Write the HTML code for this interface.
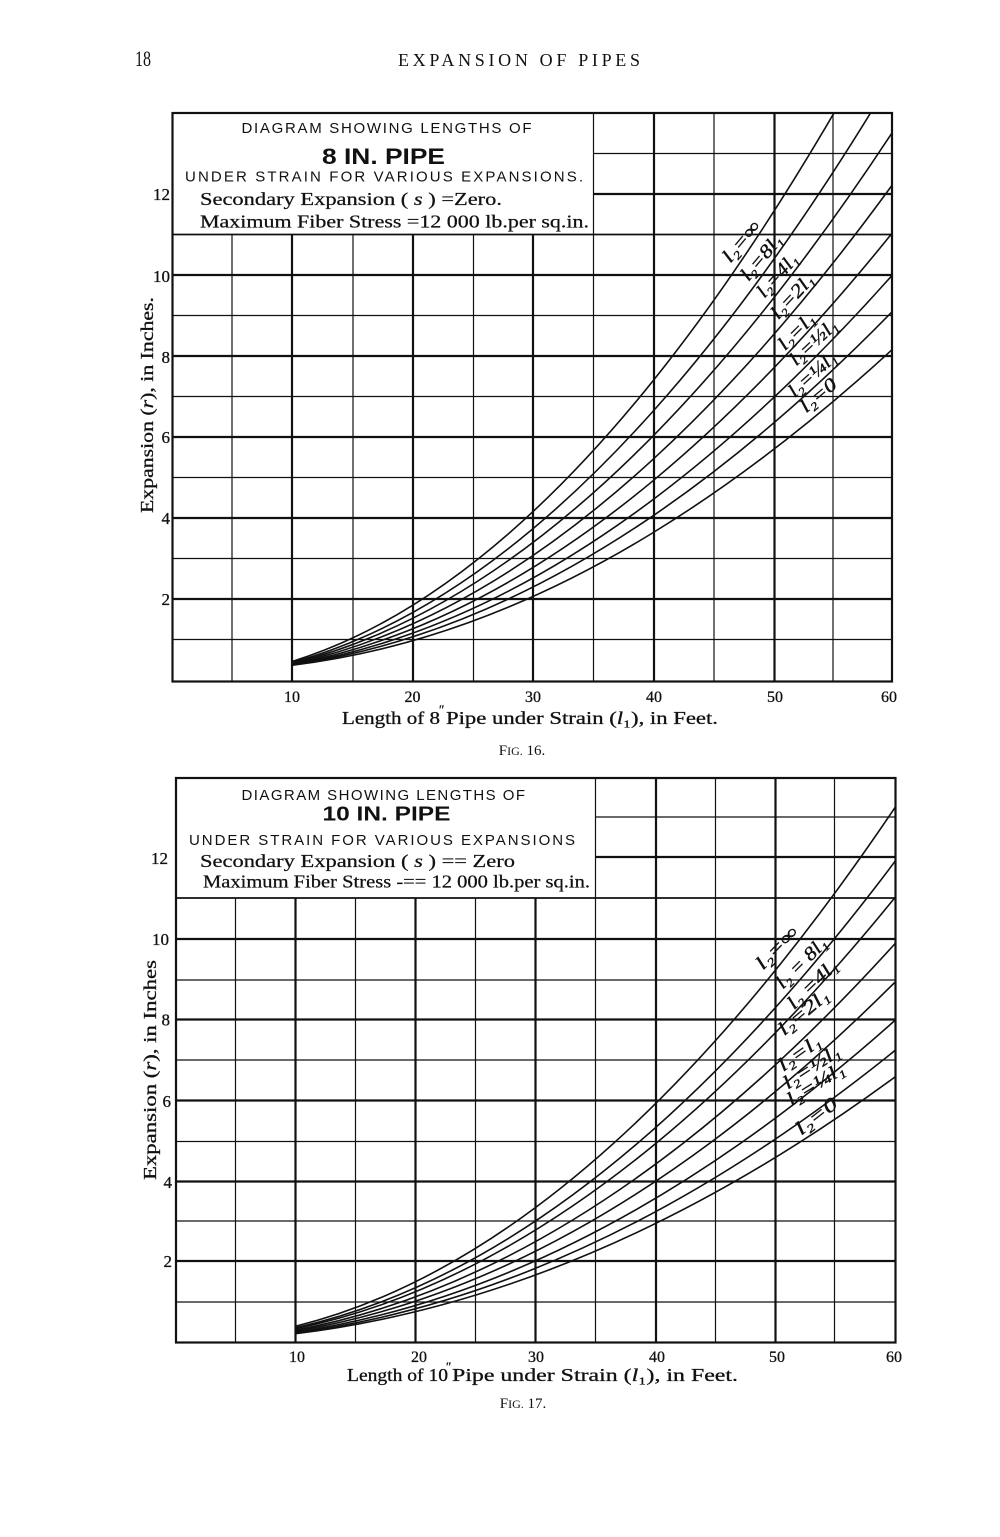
<!DOCTYPE html>
<html>
<head>
<meta charset="utf-8">
<style>
html,body{margin:0;padding:0;background:#fff;}
svg{display:block;}
.serif{font-family:"Liberation Serif","DejaVu Serif",serif;}
.sans{font-family:"Liberation Sans","DejaVu Sans",sans-serif;}
</style>
</head>
<body>
<svg width="1000" height="1537" viewBox="0 0 1000 1537" xmlns="http://www.w3.org/2000/svg">
<rect x="0" y="0" width="1000" height="1537" fill="#fff"/>
<defs>
  <clipPath id="clip1"><rect x="172.5" y="113" width="719.5" height="568.5"/></clipPath>
  <clipPath id="clip2"><rect x="176" y="778" width="719.5" height="564.5"/></clipPath>
</defs>

<!-- Header -->
<text class="serif" x="135" y="66" font-size="22" textLength="16" lengthAdjust="spacingAndGlyphs" fill="#111">18</text>
<text class="serif" x="398" y="66" font-size="18" textLength="242" lengthAdjust="spacing" fill="#111">EXPANSION OF PIPES</text>

<!-- ================= CHART 1 ================= -->
<g stroke="#111" fill="none">
  <g stroke-width="1.2">
    <line x1="232" y1="234.5" x2="232" y2="681.5"/>
    <line x1="353" y1="234.5" x2="353" y2="681.5"/>
    <line x1="473.5" y1="234.5" x2="473.5" y2="681.5"/>
    <line x1="593.5" y1="113" x2="593.5" y2="681.5"/>
    <line x1="714" y1="113" x2="714" y2="681.5"/>
    <line x1="833" y1="113" x2="833" y2="681.5"/>
  </g>
  <g stroke-width="2.2">
    <line x1="292" y1="234.5" x2="292" y2="681.5"/>
    <line x1="413" y1="234.5" x2="413" y2="681.5"/>
    <line x1="533" y1="234.5" x2="533" y2="681.5"/>
    <line x1="654" y1="113" x2="654" y2="681.5"/>
    <line x1="774.5" y1="113" x2="774.5" y2="681.5"/>
  </g>
  <g stroke-width="1.2">
    <line x1="172.5" y1="639.5" x2="892" y2="639.5"/>
    <line x1="172.5" y1="558.5" x2="892" y2="558.5"/>
    <line x1="172.5" y1="477.5" x2="892" y2="477.5"/>
    <line x1="172.5" y1="396.5" x2="892" y2="396.5"/>
    <line x1="172.5" y1="315.5" x2="892" y2="315.5"/>
    <line x1="593.5" y1="153.5" x2="892" y2="153.5"/>
  </g>
  <line x1="172.5" y1="234.5" x2="892" y2="234.5" stroke-width="1.8"/>
  <g stroke-width="2.2">
    <line x1="172.5" y1="599" x2="892" y2="599"/>
    <line x1="172.5" y1="518" x2="892" y2="518"/>
    <line x1="172.5" y1="437" x2="892" y2="437"/>
    <line x1="172.5" y1="356" x2="892" y2="356"/>
    <line x1="172.5" y1="275" x2="892" y2="275"/>
    <line x1="593.5" y1="194" x2="892" y2="194"/>
  </g>
  <rect x="172.5" y="113" width="719.5" height="568.5" stroke-width="2.2"/>
</g>

<!-- Chart 1 curves -->
<g clip-path="url(#clip1)">
  <g transform="matrix(12,0,0,-40.475,172.5,680)" fill="none" stroke="#111">
    <path vector-effect="non-scaling-stroke" stroke-width="1.6" d="M10,0.461 Q25,1.844 40,7.376 Q50,11.064 60,16.596"/>
    <path vector-effect="non-scaling-stroke" stroke-width="1.6" d="M10,0.434 Q25,1.656 40,6.624 Q50,9.936 60,14.904"/>
    <path vector-effect="non-scaling-stroke" stroke-width="1.6" d="M10,0.416 Q25,1.504 40,6.016 Q50,9.024 60,13.536"/>
    <path vector-effect="non-scaling-stroke" stroke-width="1.6" d="M10,0.400 Q25,1.360 40,5.440 Q50,8.160 60,12.240"/>
    <path vector-effect="non-scaling-stroke" stroke-width="1.6" d="M10,0.387 Q25,1.228 40,4.912 Q50,7.368 60,11.052"/>
    <path vector-effect="non-scaling-stroke" stroke-width="1.6" d="M10,0.378 Q25,1.112 40,4.448 Q50,6.672 60,10.008"/>
    <path vector-effect="non-scaling-stroke" stroke-width="1.6" d="M10,0.373 Q25,1.012 40,4.048 Q50,6.072 60,9.108"/>
    <path vector-effect="non-scaling-stroke" stroke-width="1.6" d="M10,0.367 Q25,0.908 40,3.632 Q50,5.448 60,8.172"/>
  </g>
</g>

<!-- Chart 1 box text -->
<g fill="#111">
  <text class="sans" x="241.5" y="133" font-size="15" textLength="290" lengthAdjust="spacing">DIAGRAM SHOWING LENGTHS OF</text>
  <text class="sans" x="322" y="164" font-size="22" font-weight="bold" textLength="123" lengthAdjust="spacingAndGlyphs">8 IN. PIPE</text>
  <text class="sans" x="185" y="181.5" font-size="15" textLength="398" lengthAdjust="spacing">UNDER STRAIN FOR VARIOUS EXPANSIONS.</text>
  <text class="serif" x="200" y="205" font-size="18" textLength="302" lengthAdjust="spacingAndGlyphs" stroke="#111" stroke-width="0.25">Secondary Expansion ( <tspan font-style="italic">s</tspan> ) =Zero.</text>
  <text class="serif" x="200" y="227.5" font-size="18" textLength="389" lengthAdjust="spacingAndGlyphs" stroke="#111" stroke-width="0.25">Maximum Fiber Stress =12 000 lb.per sq.in.</text>
</g>

<!-- Chart 1 curve labels -->
<g class="serif" font-style="italic" font-size="19" fill="#111" stroke="#111" stroke-width="0.4" text-anchor="middle">
  <text transform="translate(742,242) rotate(-50)" dy="5" textLength="48" lengthAdjust="spacingAndGlyphs">l₂=∞</text>
  <text transform="translate(762,258) rotate(-50)" dy="5" textLength="54" lengthAdjust="spacingAndGlyphs">l₂=8l₁</text>
  <text transform="translate(778,276) rotate(-48)" dy="5" textLength="52" lengthAdjust="spacingAndGlyphs">l₂=4l₁</text>
  <text transform="translate(793,297) rotate(-47)" dy="5" textLength="54" lengthAdjust="spacingAndGlyphs">l₂=2l₁</text>
  <text transform="translate(797,332) rotate(-45)" dy="5" textLength="44" lengthAdjust="spacingAndGlyphs">l₂=l₁</text>
  <text transform="translate(814,343) rotate(-43)" dy="5" textLength="58" lengthAdjust="spacingAndGlyphs">l₂=½l₁</text>
  <text transform="translate(813,375) rotate(-42)" dy="5" textLength="58" lengthAdjust="spacingAndGlyphs">l₂=¼l₁</text>
  <text transform="translate(819,396) rotate(-40)" dy="5" textLength="42" lengthAdjust="spacingAndGlyphs">l₂=0</text>
</g>

<!-- Chart 1 axes labels -->
<g class="serif" font-size="17" fill="#111" stroke="#111" stroke-width="0.3" text-anchor="end">
  <text x="170" y="200">12</text>
  <text x="170" y="282">10</text>
  <text x="170" y="363">8</text>
  <text x="170" y="443">6</text>
  <text x="170" y="524">4</text>
  <text x="170" y="605">2</text>
</g>
<g class="serif" font-size="16" fill="#111" stroke="#111" stroke-width="0.3" text-anchor="middle">
  <text x="292" y="702">10</text>
  <text x="412.5" y="702">20</text>
  <text x="533" y="702">30</text>
  <text x="654" y="702">40</text>
  <text x="775" y="702">50</text>
  <text x="889" y="702">60</text>
</g>
<text class="serif" transform="translate(153,405) rotate(-90)" text-anchor="middle" font-size="18" fill="#111" stroke="#111" stroke-width="0.3" textLength="216" lengthAdjust="spacingAndGlyphs">Expansion (<tspan font-style="italic">r</tspan>), in Inches.</text>
<g class="serif" fill="#111" stroke="#111" stroke-width="0.3">
  <text x="342" y="724" font-size="17.5" textLength="98" lengthAdjust="spacingAndGlyphs">Length of 8</text>
  <text x="446" y="724" font-size="17.5" textLength="272" lengthAdjust="spacingAndGlyphs">Pipe under Strain (<tspan font-style="italic">l</tspan>₁), in Feet.</text>
  <text x="439" y="714" font-size="13">″</text>
</g>
<text class="serif" x="522" y="755" font-size="15" fill="#111" text-anchor="middle">F<tspan font-size="12">IG.</tspan> 16.</text>

<!-- ================= CHART 2 ================= -->
<g stroke="#111" fill="none">
  <g stroke-width="1.2">
    <line x1="235.5" y1="898" x2="235.5" y2="1342.5"/>
    <line x1="355.5" y1="898" x2="355.5" y2="1342.5"/>
    <line x1="475.5" y1="898" x2="475.5" y2="1342.5"/>
    <line x1="595.5" y1="778" x2="595.5" y2="1342.5"/>
    <line x1="715.5" y1="778" x2="715.5" y2="1342.5"/>
    <line x1="834.5" y1="778" x2="834.5" y2="1342.5"/>
  </g>
  <g stroke-width="2.2">
    <line x1="295.5" y1="898" x2="295.5" y2="1342.5"/>
    <line x1="415.5" y1="898" x2="415.5" y2="1342.5"/>
    <line x1="535.5" y1="898" x2="535.5" y2="1342.5"/>
    <line x1="656" y1="778" x2="656" y2="1342.5"/>
    <line x1="775.5" y1="778" x2="775.5" y2="1342.5"/>
  </g>
  <g stroke-width="1.2">
    <line x1="176" y1="1302" x2="895.5" y2="1302"/>
    <line x1="176" y1="1221" x2="895.5" y2="1221"/>
    <line x1="176" y1="1141.5" x2="895.5" y2="1141.5"/>
    <line x1="176" y1="1060" x2="895.5" y2="1060"/>
    <line x1="176" y1="980" x2="895.5" y2="980"/>
    <line x1="595.5" y1="817" x2="895.5" y2="817"/>
  </g>
  <line x1="176" y1="898" x2="895.5" y2="898" stroke-width="1.8"/>
  <g stroke-width="2.2">
    <line x1="176" y1="1261" x2="895.5" y2="1261"/>
    <line x1="176" y1="1181.5" x2="895.5" y2="1181.5"/>
    <line x1="176" y1="1100.5" x2="895.5" y2="1100.5"/>
    <line x1="176" y1="1019.5" x2="895.5" y2="1019.5"/>
    <line x1="176" y1="939" x2="895.5" y2="939"/>
    <line x1="595.5" y1="857" x2="895.5" y2="857"/>
  </g>
  <rect x="176" y="778" width="719.5" height="564.5" stroke-width="2.2"/>
</g>

<!-- Chart 2 curves -->
<g clip-path="url(#clip2)">
  <g transform="matrix(12,0,0,-40.2,175.5,1341.1)" fill="none" stroke="#111">
    <path vector-effect="non-scaling-stroke" stroke-width="1.6" d="M10,0.369 Q35,2.215 60,13.29"/>
    <path vector-effect="non-scaling-stroke" stroke-width="1.6" d="M10,0.332 Q35,1.991 60,11.95"/>
    <path vector-effect="non-scaling-stroke" stroke-width="1.6" d="M10,0.307 Q35,1.841 60,11.05"/>
    <path vector-effect="non-scaling-stroke" stroke-width="1.6" d="M10,0.275 Q35,1.650 60,9.90"/>
    <path vector-effect="non-scaling-stroke" stroke-width="1.6" d="M10,0.248 Q35,1.490 60,8.94"/>
    <path vector-effect="non-scaling-stroke" stroke-width="1.6" d="M10,0.222 Q35,1.331 60,7.99"/>
    <path vector-effect="non-scaling-stroke" stroke-width="1.6" d="M10,0.201 Q35,1.207 60,7.24"/>
    <path vector-effect="non-scaling-stroke" stroke-width="1.6" d="M10,0.183 Q35,1.097 60,6.58"/>
  </g>
</g>

<!-- Chart 2 box text -->
<g fill="#111">
  <text class="sans" x="241.5" y="800" font-size="15" textLength="283.5" lengthAdjust="spacing">DIAGRAM SHOWING LENGTHS OF</text>
  <text class="sans" x="322.5" y="820.5" font-size="20" font-weight="bold" textLength="128" lengthAdjust="spacingAndGlyphs">10 IN. PIPE</text>
  <text class="sans" x="189" y="845" font-size="15" textLength="386" lengthAdjust="spacing">UNDER STRAIN FOR VARIOUS EXPANSIONS</text>
  <text class="serif" x="200" y="867" font-size="18" textLength="315" lengthAdjust="spacingAndGlyphs" stroke="#111" stroke-width="0.25">Secondary Expansion ( <tspan font-style="italic">s</tspan> ) == Zero</text>
  <text class="serif" x="203" y="887.5" font-size="18" textLength="387" lengthAdjust="spacingAndGlyphs" stroke="#111" stroke-width="0.25">Maximum Fiber Stress -== 12 000 lb.per sq.in.</text>
</g>

<!-- Chart 2 curve labels -->
<g class="serif" font-style="italic" font-size="19" fill="#111" stroke="#111" stroke-width="0.4" text-anchor="middle">
  <text transform="translate(777.5,948.5) rotate(-46)" dy="5" textLength="52" lengthAdjust="spacingAndGlyphs">l₂=∞</text>
  <text transform="translate(802,963.5) rotate(-45)" dy="5" textLength="64" lengthAdjust="spacingAndGlyphs">l₂ = 8l₁</text>
  <text transform="translate(813,985) rotate(-44)" dy="5" textLength="62" lengthAdjust="spacingAndGlyphs">l₂ =4l₁</text>
  <text transform="translate(804,1013) rotate(-40)" dy="5" textLength="60" lengthAdjust="spacingAndGlyphs">l₂=2l₁</text>
  <text transform="translate(800,1054) rotate(-35)" dy="5" textLength="48" lengthAdjust="spacingAndGlyphs">l₂=l₁</text>
  <text transform="translate(812,1068) rotate(-33)" dy="5" textLength="64" lengthAdjust="spacingAndGlyphs">l₂=½l₁</text>
  <text transform="translate(816,1085) rotate(-32)" dy="5" textLength="64" lengthAdjust="spacingAndGlyphs">l₂=¼l₁</text>
  <text transform="translate(817,1117) rotate(-38)" dy="5" textLength="48" lengthAdjust="spacingAndGlyphs">l₂=0</text>
</g>

<!-- Chart 2 axes labels -->
<g class="serif" font-size="17" fill="#111" stroke="#111" stroke-width="0.3" text-anchor="end">
  <text x="168" y="864">12</text>
  <text x="169" y="945">10</text>
  <text x="170" y="1025.5">8</text>
  <text x="171" y="1107">6</text>
  <text x="172" y="1188">4</text>
  <text x="172" y="1267">2</text>
</g>
<g class="serif" font-size="16" fill="#111" stroke="#111" stroke-width="0.3" text-anchor="middle">
  <text x="297" y="1362">10</text>
  <text x="419" y="1362">20</text>
  <text x="536" y="1362">30</text>
  <text x="657" y="1362">40</text>
  <text x="777" y="1362">50</text>
  <text x="894" y="1362">60</text>
</g>
<text class="serif" transform="translate(156,1070) rotate(-90)" text-anchor="middle" font-size="18" fill="#111" stroke="#111" stroke-width="0.3" textLength="220" lengthAdjust="spacingAndGlyphs">Expansion (<tspan font-style="italic">r</tspan>), in Inches</text>
<g class="serif" fill="#111" stroke="#111" stroke-width="0.3">
  <text x="347" y="1381" font-size="18" textLength="101" lengthAdjust="spacingAndGlyphs">Length of 10</text>
  <text x="452" y="1381" font-size="18" textLength="286" lengthAdjust="spacingAndGlyphs">Pipe under Strain (<tspan font-style="italic">l</tspan>₁), in Feet.</text>
  <text x="446" y="1371" font-size="13">″</text>
</g>
<text class="serif" x="523" y="1408" font-size="15" fill="#111" text-anchor="middle">F<tspan font-size="12">IG.</tspan> 17.</text>

</svg>
</body>
</html>
